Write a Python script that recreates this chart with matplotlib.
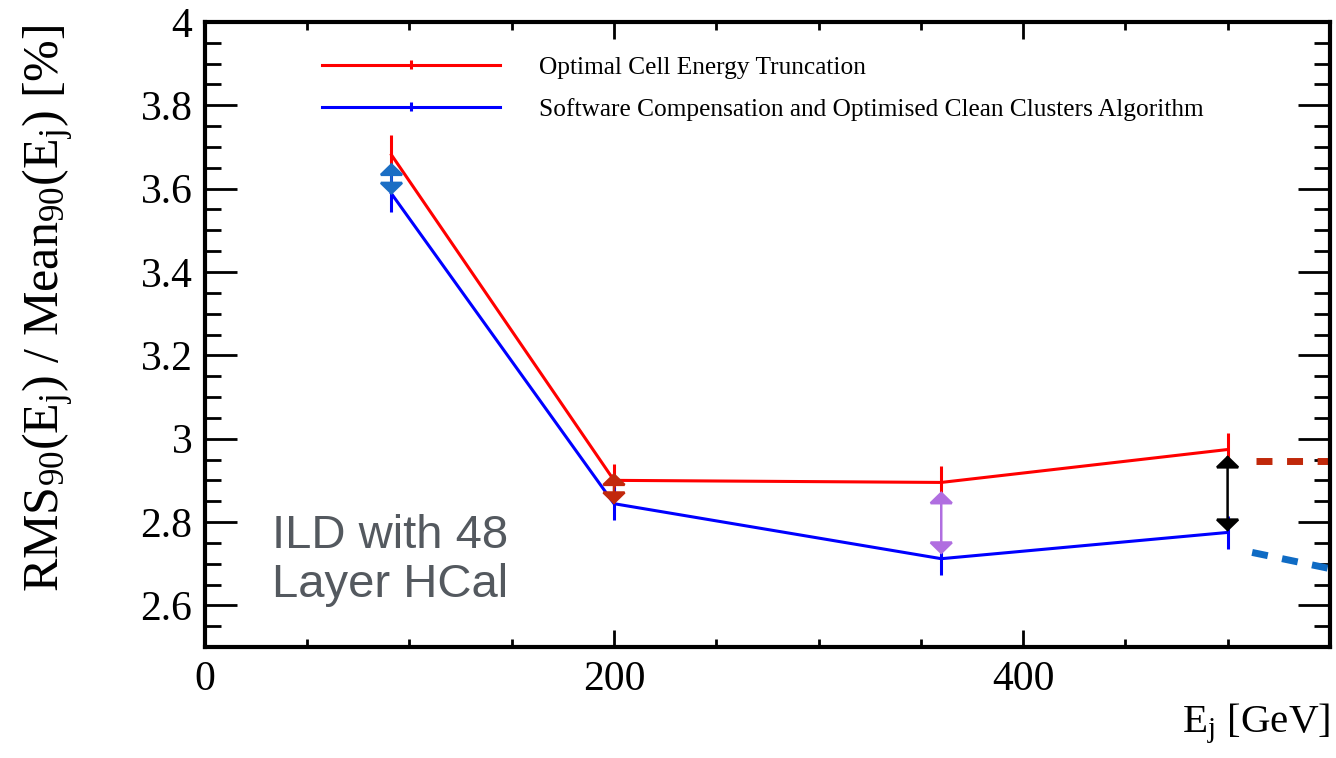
import numpy as np
import matplotlib.pyplot as plt
from matplotlib.ticker import MultipleLocator, FormatStrFormatter
from matplotlib.legend_handler import HandlerErrorbar

plt.rcParams['font.family'] = 'Liberation Serif'
plt.rcParams['mathtext.fontset'] = 'custom'
plt.rcParams['mathtext.rm'] = 'Liberation Serif'
plt.rcParams['mathtext.it'] = 'Liberation Serif:italic'

# jet energies [GeV] and RMS90/Mean90 [%]
energy = [91.2, 200, 360, 500]
trunc = [3.681, 2.900, 2.895, 2.974]
trunc_err = [0.048, 0.040, 0.040, 0.040]
softcomp = [3.588, 2.844, 2.712, 2.775]
softcomp_err = [0.045, 0.040, 0.040, 0.040]

# improvement arrows between the two curves
arrow_x = [91.2, 200, 360, 500]
arrow_top = [3.662, 2.918, 2.874, 2.960]
arrow_bot = [3.585, 2.842, 2.722, 2.777]
arrow_col = ['#1b6ec4', '#c2280c', '#b06ee0', 'black']

# extrapolation beyond 500 GeV
extrap_x = [514, 560]
extrap_trunc = [2.947, 2.947]
extrap_soft_x = [512, 560]
extrap_soft = [2.727, 2.678]

fig = plt.figure(figsize=(13.36, 7.58), dpi=100)
ax = fig.add_axes([0.1534, 0.1464, 0.842, 0.8246])

eb1 = ax.errorbar(energy, trunc, yerr=trunc_err, color='red', lw=2.2,
                  elinewidth=2.2, capsize=0, label='Optimal Cell Energy Truncation')
eb2 = ax.errorbar(energy, softcomp, yerr=softcomp_err, color='blue', lw=2.2,
                  elinewidth=2.2, capsize=0,
                  label='Software Compensation and Optimised Clean Clusters Algorithm')

for x, y0, y1, c in zip(arrow_x, arrow_top, arrow_bot, arrow_col):
    ax.annotate('', xy=(x, y1), xytext=(x, y0),
                arrowprops=dict(arrowstyle='<|-|>,head_length=0.37,head_width=0.38',
                                color=c, lw=1.8, shrinkA=0, shrinkB=0,
                                joinstyle='miter', mutation_scale=20), zorder=5)

ax.plot(extrap_x, extrap_trunc, color='#c0280a', lw=5, dashes=(2.3, 2.1))
ax.plot(extrap_soft_x, extrap_soft, color='#0f6bc4', lw=5, dashes=(2.3, 2.1))

ax.text(0.06, 0.064, 'ILD with 48\nLayer HCal', transform=ax.transAxes,
        fontsize=34, color='#54595f', family='Liberation Sans',
        linespacing=1.15, va='bottom', ha='left')

ax.set_xlim(0, 550)
ax.set_ylim(2.5, 4.0)
ax.xaxis.set_major_locator(MultipleLocator(200))
ax.xaxis.set_minor_locator(MultipleLocator(50))
ax.yaxis.set_major_locator(MultipleLocator(0.2))
ax.yaxis.set_minor_locator(MultipleLocator(0.05))
ax.yaxis.set_major_formatter(FormatStrFormatter('%g'))
ax.tick_params(axis='both', which='both', direction='in', top=True, right=True,
               width=2, labelsize=30)
ax.tick_params(axis='x', which='major', length=12, pad=10)
ax.tick_params(axis='x', which='minor', length=6)
ax.tick_params(axis='y', which='major', length=23, pad=9)
ax.tick_params(axis='y', which='minor', length=11.5)
for s in ax.spines.values():
    s.set_linewidth(3)

leg = ax.legend(handles=[eb1, eb2], loc='upper left', bbox_to_anchor=(0.104, 0.946),
                frameon=False, fontsize=18.3, handlelength=7.0, handletextpad=1.55,
                labelspacing=0.75, borderpad=0, borderaxespad=0,
                handler_map={type(eb1): HandlerErrorbar(yerr_size=0.18)})

fig.text(1330 / 1336, 1 - 732 / 758, r'E$_{\mathrm{j}}$ [GeV]', fontsize=29.5,
         ha='right', va='baseline')
fig.text(0.036, 1 - 25 / 758,
         r'RMS$_{90}$(E$_{\mathrm{j}}$) / Mean$_{90}$(E$_{\mathrm{j}}$) [%]',
         fontsize=36, rotation=90, ha='center', va='top')

fig.savefig('out.png', dpi=100)
